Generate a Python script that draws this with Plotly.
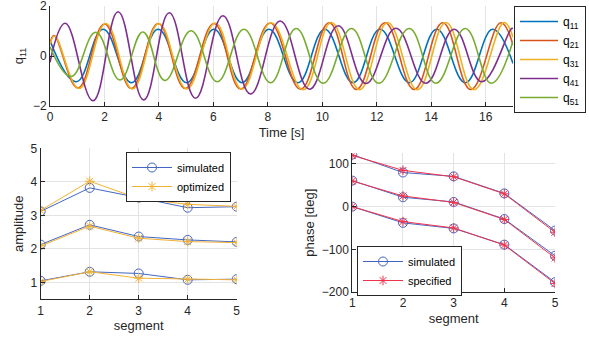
import plotly.graph_objects as go

# ---------------- top: time histories (extremes) -------------
names = ["q<sub>11</sub>", "q<sub>21</sub>", "q<sub>31</sub>", "q<sub>41</sub>", "q<sub>51</sub>"]
colors = ["#0072BD", "#D95319", "#EDB120", "#7E2F8E", "#77AC30"]

t_q11 = [0, 0.97, 1.95, 2.99, 3.97, 5.02, 6.02, 7.05, 8.04, 9.1, 10.09, 11.13, 12.12, 13.2, 14.2, 15.25, 16.25, 17.0]
y_q11 = [0.62, -1.03, 1.07, -1.07, 1.07, -1.07, 1.07, -1.07, 1.07, -1.07, 1.07, -1.07, 1.07, -1.07, 1.07, -1.07, 1.07, -0.3]

t_q21 = [0, 0.15, 1.03, 2.0, 2.99, 3.97, 4.97, 6.02, 7.0, 8.08, 9.2, 10.25, 11.25, 12.3, 13.37, 14.42, 15.45, 16.55, 17.0]
y_q21 = [0.5, 0.82, -1.28, 1.28, -1.3, 1.3, -1.3, 1.3, -1.32, 1.32, -1.33, 1.33, -1.34, 1.33, -1.34, 1.33, -1.34, 1.33, 0.45]

t_q31 = [0, 0.17, 1.07, 2.05, 3.03, 4.0, 5.02, 6.07, 7.05, 8.12, 9.3, 10.33, 11.37, 12.4, 13.49, 14.54, 15.57, 16.67, 17.0]
y_q31 = [0.45, 0.8, -1.3, 1.3, -1.32, 1.3, -1.32, 1.32, -1.33, 1.33, -1.35, 1.34, -1.35, 1.34, -1.35, 1.34, -1.35, 1.34, 0.75]

t_q41 = [0, 0.56, 1.58, 2.5, 3.44, 4.38, 5.34, 6.35, 7.36, 8.45, 9.53, 10.58, 11.6, 12.7, 13.8, 14.84, 15.85, 16.95, 17.0]
y_q41 = [-0.25, 1.31, -1.79, 1.77, -1.76, 1.73, -1.69, 1.61, -1.52, 1.40, -1.33, 1.21, -1.1, 1.11, -1.09, 1.07, -1.03, 1.1, 1.09]

t_q51 = [0, 0.78, 1.68, 2.57, 3.41, 4.22, 5.18, 6.14, 7.12, 8.1, 9.04, 10.03, 11.07, 12.07, 13.19, 14.17, 15.25, 16.2, 17.0]
y_q51 = [0.37, -0.82, 0.95, -0.96, 0.96, -0.98, 1.01, -1.03, 1.07, -1.07, 1.1, -1.09, 1.1, -1.09, 1.1, -1.09, 1.1, -1.09, 0.6]

series_t = [t_q11, t_q21, t_q31, t_q41, t_q51]
series_y = [y_q11, y_q21, y_q31, y_q41, y_q51]

# ---------------- bottom left: amplitude -------------
segments = [1, 2, 3, 4, 5]
amp_sim_1 = [1.05, 1.32, 1.27, 1.08, 1.10]
amp_sim_2 = [2.13, 2.72, 2.37, 2.27, 2.21]
amp_sim_3 = [3.12, 3.82, 3.53, 3.23, 3.26]
amp_opt_1 = [1.03, 1.32, 1.13, 1.10, 1.08]
amp_opt_2 = [2.09, 2.68, 2.32, 2.22, 2.19]
amp_opt_3 = [3.15, 4.02, 3.50, 3.33, 3.27]

# ---------------- bottom right: phase -------------
ph_sim_1 = [0, -38, -51, -89, -177]
ph_sim_2 = [61, 22, 11, -29, -115]
ph_sim_3 = [122, 80, 71, 31, -56]
ph_spec_1 = [0, -35, -50, -90, -180]
ph_spec_2 = [60, 25, 10, -30, -120]
ph_spec_3 = [120, 85, 70, 30, -60]

W, H = 589, 339
def px(x): return x / W
def py(y): return 1 - y / H

FONT = "Liberation Sans, Arial, sans-serif"
AX = "#262626"
GRID = "#e3e3e3"
SIM_BLUE = "#4466c0"
OPT_ORANGE = "#F2B134"
SPEC_RED = "#f0324b"

fig = go.Figure()

for nm, c, tt, yy in zip(names, colors, series_t, series_y):
    fig.add_trace(go.Scatter(x=tt, y=yy, mode="lines", name=nm,
                             line=dict(color=c, width=1.6, shape="spline", smoothing=1.2),
                             xaxis="x", yaxis="y", legend="legend"))

def joined(groups):
    xs, ys = [], []
    for i, g in enumerate(groups):
        if i:
            xs.append(None); ys.append(None)
        xs += segments; ys += g
    return xs, ys

x_s, y_s = joined([amp_sim_1, amp_sim_2, amp_sim_3])
fig.add_trace(go.Scatter(x=x_s, y=y_s, mode="lines+markers", name="simulated",
                         line=dict(color=SIM_BLUE, width=1),
                         marker=dict(symbol="circle-open", size=9, color=SIM_BLUE, line=dict(width=1)),
                         xaxis="x2", yaxis="y2", legend="legend2"))
x_o, y_o = joined([amp_opt_1, amp_opt_2, amp_opt_3])
fig.add_trace(go.Scatter(x=x_o, y=y_o, mode="lines+markers", name="optimized",
                         line=dict(color=OPT_ORANGE, width=1),
                         marker=dict(symbol="asterisk-open", size=8, color=OPT_ORANGE, line=dict(width=1, color=OPT_ORANGE)),
                         xaxis="x2", yaxis="y2", legend="legend2"))

x_p, y_p = joined([ph_sim_1, ph_sim_2, ph_sim_3])
fig.add_trace(go.Scatter(x=x_p, y=y_p, mode="lines+markers", name="simulated",
                         line=dict(color=SIM_BLUE, width=1),
                         marker=dict(symbol="circle-open", size=9, color=SIM_BLUE, line=dict(width=1)),
                         xaxis="x3", yaxis="y3", legend="legend3"))
x_q, y_q = joined([ph_spec_1, ph_spec_2, ph_spec_3])
fig.add_trace(go.Scatter(x=x_q, y=y_q, mode="lines+markers", name="specified",
                         line=dict(color=SPEC_RED, width=1),
                         marker=dict(symbol="asterisk-open", size=8, color=SPEC_RED, line=dict(width=1, color=SPEC_RED)),
                         xaxis="x3", yaxis="y3", legend="legend3"))

def axis(domain, rng, dtick, title, anchor, standoff):
    return dict(domain=domain, range=rng, dtick=dtick, anchor=anchor,
                showgrid=True, gridcolor=GRID, gridwidth=1, zeroline=False,
                showline=True, linecolor=AX, linewidth=1,
                ticks="inside", ticklen=4, tickcolor=AX, ticklabeloverflow="allow",
                tickfont=dict(family=FONT, size=12, color=AX),
                title=dict(text=title, font=dict(family=FONT, size=13, color=AX), standoff=standoff))

legend_common = dict(bgcolor="white", bordercolor=AX, borderwidth=1,
                     font=dict(family=FONT, size=11, color="black"), itemwidth=40,
                     xanchor="left", yanchor="top")

fig.update_layout(
    width=W, height=H, margin=dict(l=0, r=0, t=0, b=0, autoexpand=False),
    paper_bgcolor="white", plot_bgcolor="white",
    font=dict(family=FONT, color=AX),
    xaxis=axis([px(50), px(513)], [0, 17], 2, "Time [s]", "y", 4),
    yaxis=axis([py(106), py(6)], [-2, 2], 2, "q<sub>11</sub>", "x", 6),
    xaxis2=axis([px(40.7), px(236.7)], [1, 5], 1, "segment", "y2", 4),
    yaxis2=axis([py(299.3), py(148.3)], [0.5, 5], 1, "amplitude", "x2", 4),
    xaxis3=axis([px(352.3), px(555)], [1, 5], 1, "segment", "y3", 4),
    yaxis3=axis([py(292), py(153.3)], [-200, 125], 100, "phase [deg]", "x3", 4),
    legend=dict(x=px(514), y=py(6), **{**legend_common, "itemwidth": 38,
                "font": dict(family=FONT, size=12, color="black")}),
    legend2=dict(x=px(126), y=py(152), **legend_common),
    legend3=dict(x=px(357), y=py(246), **legend_common),
)

fig.write_html("out.html", config={"displayModeBar": False},
               post_script="document.body.style.margin='0px';document.body.style.overflow='hidden';")
